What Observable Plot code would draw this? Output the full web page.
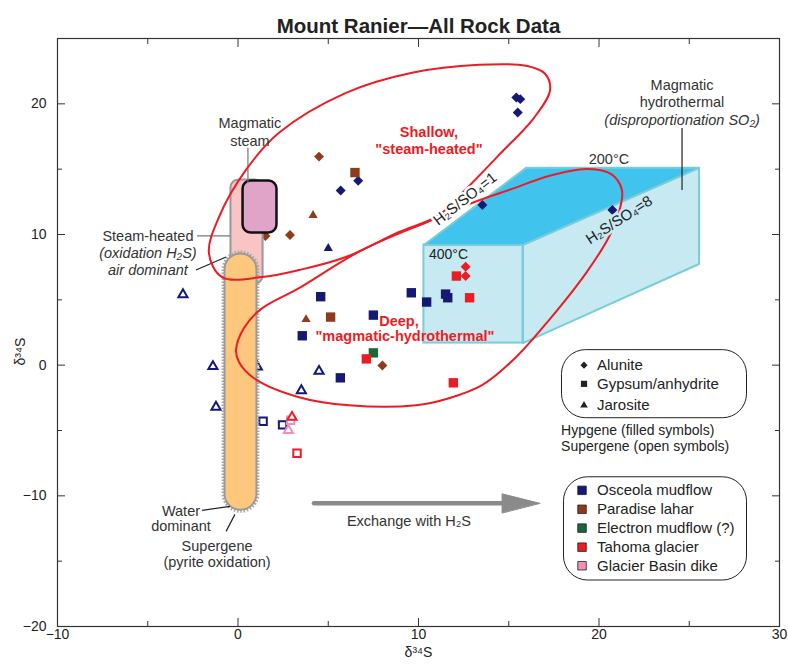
<!DOCTYPE html>
<html><head><meta charset="utf-8">
<script src="https://cdn.jsdelivr.net/npm/d3@7"></script>
<script src="https://cdn.jsdelivr.net/npm/@observablehq/plot@0.6"></script>
<style>body{margin:0;background:#fff}svg{display:block}</style>
</head><body><div id="chart"></div>
<script>
// ---------- data (δ34S values) ----------
const osceolaAlunite = [[15.42,20.48],[15.64,20.36],[15.5,19.33],[13.54,12.26],[20.74,11.88],[5.69,13.36],[6.66,14.12]];
const osceolaGypsum = [[4.58,5.24],[3.56,2.25],[5.67,-0.97],[7.5,3.83],[9.6,5.54],[10.45,4.83],[11.5,5.44],[11.62,5.16]];
const osceolaJarosite = [[5.0,8.94]];
const osceolaJarositeOpen = [[-3.05,5.4],[-1.39,-0.1],[1.07,-0.13],[4.49,-0.46],[3.51,-1.94],[-1.22,-3.21]];
const osceolaGypsumOpen = [[1.39,-4.29],[2.47,-4.57]];
const paradiseAlunite = [[4.49,15.96],[2.88,9.96],[1.52,9.89],[8.0,-0.03]];
const paradiseGypsum = [[6.48,14.74],[5.13,3.68]];
const paradiseJarosite = [[4.16,11.47],[3.77,3.5]];
const electronGypsum = [[7.5,0.94]];
const tahomaAlunite = [[12.61,7.53],[12.61,6.82]];
const tahomaGypsum = [[12.1,6.82],[12.83,5.16],[7.11,0.48],[11.93,-1.35]];
const glacierGypsumOpen = [[2.92,-4.21]];
const glacierJarositeOpen = [[2.79,-4.98]];
const tahomaJarositeOpen = [[2.99,-3.98]];
const tahomaGypsumOpen = [[3.27,-6.74]];

const locations = ["Osceola mudflow","Paradise lahar","Electron mudflow (?)","Tahoma glacier","Glacier Basin dike"];
const locationColors = ["#141a73","#8e3b1b","#17683a","#ec1c24","#f48fb7"];
const minerals = ["Alunite","Gypsum/anhydrite","Jarosite"];

const xTickLabels = [-10,0,10,20,30];
const yTickLabels = [-20,-10,0,10,20];
const xMajor = [0,10,20];
const xMinor = [-5,5,15,25];
const yMajor = [-10,0,10,20];
const yMinor = [-15,-5,5,15];

// ---------- interpretive regions (figure overlay, data units) ----------
const shallowOutline = [[-1.61,8.58],[-1.05,11.34],[0.44,14.94],[2.27,17.78],[5.98,20.84],[9.64,22.38],[13.35,22.99],[15.96,22.91],[17.01,22.30],[17.29,21.07],[16.40,18.93],[14.46,16.09],[12.69,13.56],[11.14,11.49],[8.92,10.19],[5.98,8.28],[3.38,7.28],[1.33,6.74],[-0.89,6.74]];
const deepOutline = [[-0.11,1.15],[0.33,2.84],[1.27,4.29],[3.38,5.90],[6.87,8.81],[10.75,11.11],[12.96,12.41],[15.18,13.49],[17.23,14.48],[19.28,15.02],[20.66,14.64],[21.27,13.41],[21.11,11.72],[20.55,9.81],[19.28,7.05],[17.23,3.45],[15.40,0.61],[13.52,-1.53],[11.69,-2.53],[9.86,-3.07],[6.15,-3.07],[3.38,-2.45],[0.89,-1.00],[0.06,0.23]];
const prismTop = [[10.30,9.20],[15.96,15.10],[25.54,15.10],[15.79,9.20]];
const prismSide = [[15.79,9.20],[25.54,15.10],[25.54,7.74],[15.79,1.69]];
const prismFront = [{x1:10.30,x2:15.79,y1:1.69,y2:9.20}];
const steamHeatedBox = [{x1:-0.39,x2:1.39,y1:6.21,y2:14.18}];
const magmaticSteamBox = [{x1:0.28,x2:2.16,y1:10.11,y2:14.10}];
const waterPill = [{x1:-0.72,x2:1.05,y1:-11.11,y2:8.51}];
const arrowShaft = [[4.21,-10.57],[15.0,-10.57]];
const arrowHead = [[16.72,-10.57],[14.63,-9.85],[14.63,-11.29]];

const leaders = [
  {x1:0.55,y1:16.63,x2:0.55,y2:13.95,c:"#777"},
  {x1:-2.27,y1:9.89,x2:-0.44,y2:9.89,c:"#777"},
  {x1:-2.33,y1:7.28,x2:-0.66,y2:8.28,c:"#222"},
  {x1:-1.99,y1:-11.11,x2:-0.44,y2:-10.80,c:"#222"},
  {x1:-0.66,y1:-12.72,x2:-0.17,y2:-11.42,c:"#222"},
  {x1:24.6,y1:18.16,x2:24.6,y2:13.41,c:"#222"}
];
const notes = [
  {x:0.66,y:18.47,t:"Magmatic"},{x:0.66,y:17.16,t:"steam"},
  {x:-4.99,y:9.89,t:"Steam-heated"},
  {x:-3.16,y:-11.19,t:"Water"},{x:-3.16,y:-12.34,t:"dominant"},
  {x:-1.16,y:-13.87,t:"Supergene"},{x:-1.16,y:-15.10,t:"(pyrite oxidation)"},
  {x:24.6,y:21.38,t:"Magmatic"},{x:24.6,y:20.08,t:"hydrothermal"},
  {x:20.55,y:15.78,t:"200°C"},
  {x:9.47,y:-11.95,t:"Exchange with H₂S"}
];
const italicNotes = [
  {x:-4.99,y:8.58,t:"(oxidation H₂S)"},{x:-4.99,y:7.28,t:"air dominant"},
  {x:24.6,y:18.7,t:"(disproportionation SO₂)"}
];
const redNotes = [
  {x:10.58,y:17.85,t:"Shallow,"},{x:10.58,y:16.55,t:"\"steam-heated\""},
  {x:8.92,y:3.37,t:"Deep,"},{x:9.25,y:2.22,t:"\"magmatic-hydrothermal\""}
];

// legend layout (data units)
const legendBox1 = [{x1:17.95,x2:28.2,y1:-4.06,y2:1.15}];
const legendBox2 = [{x1:18.06,x2:28.2,y1:-16.48,y2:-8.58}];
const legend1Y = [0,-1.43,-3.07];
const legend2Y = [-9.58,-11.03,-12.47,-13.93,-15.35];
const hypText = ["Hypgene (filled symbols)","Supergene (open symbols)"];
const hypY = [-4.98,-6.21];
const legendSymX = 19.17, legendTextX = 19.89, legend2SymX = 19.06;

// ---------- build table ----------
const groups = [
  [osceolaAlunite,0,"Alunite",false],[osceolaGypsum,0,"Gypsum/anhydrite",false],[osceolaJarosite,0,"Jarosite",false],
  [osceolaJarositeOpen,0,"Jarosite",true],[osceolaGypsumOpen,0,"Gypsum/anhydrite",true],
  [paradiseAlunite,1,"Alunite",false],[paradiseGypsum,1,"Gypsum/anhydrite",false],[paradiseJarosite,1,"Jarosite",false],
  [electronGypsum,2,"Gypsum/anhydrite",false],
  [tahomaAlunite,3,"Alunite",false],[tahomaGypsum,3,"Gypsum/anhydrite",false],
  [glacierGypsumOpen,4,"Gypsum/anhydrite",true],[glacierJarositeOpen,4,"Jarosite",true],
  [tahomaJarositeOpen,3,"Jarosite",true],[tahomaGypsumOpen,3,"Gypsum/anhydrite",true]
];
const samples = groups.flatMap(([arr,li,m,open]) => arr.map(([x,y]) => ({x,y,color:locationColors[li],mineral:m,open})));
const pick = (m,open) => samples.filter(d => d.mineral===m && d.open===open);

const SANS = "'Liberation Sans', Arial, Helvetica, sans-serif";
const X = d => d[0], Y = d => d[1];
const symFor = {"Alunite":["diamond2",4.5],"Gypsum/anhydrite":["square",5.3],"Jarosite":["triangle",3.4]};
const openSym = {"Gypsum/anhydrite":["square",4.2],"Jarosite":["triangle",3.4]};

const marks = [
  // prism
  Plot.rect(prismFront,{x1:"x1",x2:"x2",y1:"y1",y2:"y2",fill:"#c7e9f2",stroke:"#79cdd8",strokeWidth:2}),
  Plot.line(prismSide,{x:X,y:Y,curve:"linear-closed",fill:"#c7e9f2",stroke:"#79cdd8",strokeWidth:2}),
  Plot.line(prismTop,{x:X,y:Y,curve:"linear-closed",fill:"#40c4ee",stroke:"#79cdd8",strokeWidth:2}),
  // points
  ...Object.entries(symFor).map(([m,[s,r]]) => Plot.dot(pick(m,false),{x:"x",y:"y",symbol:s,r,fill:"color"})),
  ...Object.entries(openSym).map(([m,[s,r]]) => Plot.dot(pick(m,true),{x:"x",y:"y",symbol:s,r,stroke:"color",fill:"white",strokeWidth:2})),
  // field boxes
  Plot.rect(steamHeatedBox,{x1:"x1",x2:"x2",y1:"y1",y2:"y2",rx:8,fill:"#f8c4c4",stroke:"#999",strokeWidth:2}),
  Plot.rect(magmaticSteamBox,{x1:"x1",x2:"x2",y1:"y1",y2:"y2",rx:8,fill:"#e0a4c8",stroke:"#111",strokeWidth:2.5}),
  Plot.rect(waterPill,{x1:"x1",x2:"x2",y1:"y1",y2:"y2",rx:16,fill:"none",stroke:"#aaa",strokeWidth:6,strokeDasharray:"1.5,1.5"}),
  Plot.rect(waterPill,{x1:"x1",x2:"x2",y1:"y1",y2:"y2",rx:16,fill:"#fdc77e",stroke:"#999",strokeWidth:2}),
  // leaders
  Plot.link(leaders,{x1:"x1",y1:"y1",x2:"x2",y2:"y2",stroke:d=>d.c,strokeWidth:1.2}),
  // ellipses
  Plot.line(shallowOutline,{x:X,y:Y,curve:"catmull-rom-closed",stroke:"#ec1c24",strokeWidth:2}),
  Plot.line(deepOutline,{x:X,y:Y,curve:"catmull-rom-closed",stroke:"#ec1c24",strokeWidth:2}),
  // ratio labels
  Plot.text(["H₂S/SO₄=1"],{x:12.58,y:12.72,text:d=>d,rotate:-38,fontSize:15,fill:"#222",stroke:"white",strokeWidth:5,fontFamily:SANS}),
  Plot.text(["H₂S/SO₄=8"],{x:21.11,y:11.11,text:d=>d,rotate:-33,fontSize:15,fill:"#222",stroke:"#c7e9f2",strokeWidth:5,fontFamily:SANS}),
  Plot.text(["400°C"],{x:10.58,y:8.43,text:d=>d,textAnchor:"start",fontSize:14,fill:"#222",fontFamily:SANS}),
  // arrow
  Plot.line(arrowShaft,{x:X,y:Y,stroke:"#8a8a8a",strokeWidth:4.5}),
  Plot.line(arrowHead,{x:X,y:Y,curve:"linear-closed",fill:"#8a8a8a",stroke:"#8a8a8a",strokeWidth:1}),
  // notes
  Plot.text(notes,{x:"x",y:"y",text:"t",fontSize:14.5,fill:"#333",fontFamily:SANS}),
  Plot.text(italicNotes,{x:"x",y:"y",text:"t",fontSize:14.5,fill:"#333",fontStyle:"italic",fontFamily:SANS}),
  Plot.text(redNotes,{x:"x",y:"y",text:"t",fontSize:14.5,fill:"#ec1c24",fontWeight:"bold",fontFamily:SANS}),
  // legends
  Plot.rect(legendBox1,{x1:"x1",x2:"x2",y1:"y1",y2:"y2",rx:24,fill:"white",stroke:"#222",strokeWidth:1}),
  Plot.rect(legendBox2,{x1:"x1",x2:"x2",y1:"y1",y2:"y2",rx:24,fill:"white",stroke:"#222",strokeWidth:1}),
  Plot.dot(minerals,{x:legendSymX,y:(d,i)=>legend1Y[i],symbol:d=>symFor[d][0],r:(d)=>symFor[d][1]*0.85,fill:"#222"}),
  Plot.text(minerals,{x:legendTextX,y:(d,i)=>legend1Y[i],text:d=>d,textAnchor:"start",fontSize:15,fill:"#222",fontFamily:SANS}),
  Plot.text(hypText,{x:17.9,y:(d,i)=>hypY[i],text:d=>d,textAnchor:"start",fontSize:14,fill:"#222",fontFamily:SANS}),
  Plot.dot(locations,{x:legend2SymX,y:(d,i)=>legend2Y[i],symbol:"square",r:4.8,fill:(d,i)=>locationColors[i],stroke:"#222",strokeWidth:0.8}),
  Plot.text(locations,{x:legendTextX,y:(d,i)=>legend2Y[i],text:d=>d,textAnchor:"start",fontSize:15,fill:"#222",fontFamily:SANS}),
  // frame & axes
  Plot.frame({stroke:"#333",strokeWidth:1.2}),
  Plot.axisX(xTickLabels,{anchor:"bottom",tickSize:0,tickPadding:3,label:null,fontSize:14,fill:"#222"}),
  Plot.axisY(yTickLabels,{anchor:"left",tickSize:0,tickPadding:11,label:null,fontSize:14,fill:"#222"}),
  ...["bottom","top"].flatMap(a => [
    Plot.axisX(xMajor,{anchor:a,tickSize:-8,tickFormat:()=>"",label:null,stroke:"#333"}),
    Plot.axisX(xMinor,{anchor:a,tickSize:-5,tickFormat:()=>"",label:null,stroke:"#333"})]),
  ...["left","right"].flatMap(a => [
    Plot.axisY(yMajor,{anchor:a,tickSize:-8,tickFormat:()=>"",label:null,stroke:"#333"}),
    Plot.axisY(yMinor,{anchor:a,tickSize:-5,tickFormat:()=>"",label:null,stroke:"#333"})]),
  Plot.text(["δ³⁴S"],{frameAnchor:"bottom",dy:30,text:d=>d,fontSize:14,fill:"#222"}),
  Plot.text(["δ³⁴S"],{frameAnchor:"left",dx:-37,dy:33,rotate:-90,text:d=>d,fontSize:14,fill:"#222"}),
  Plot.text(["Mount Ranier—All Rock Data"],{frameAnchor:"top",dy:-20,text:d=>d,fontSize:20.5,fontWeight:"bold",fill:"#222"})
];

const chart = Plot.plot({
  width:788, height:664,
  marginLeft:57, marginRight:9, marginTop:38, marginBottom:38,
  x:{domain:[-10,30]}, y:{domain:[-20,25]},
  color:{type:"identity"},
  style:{fontFamily:SANS, background:"white"},
  marks
});
document.getElementById("chart").appendChild(chart);
</script></body></html>
